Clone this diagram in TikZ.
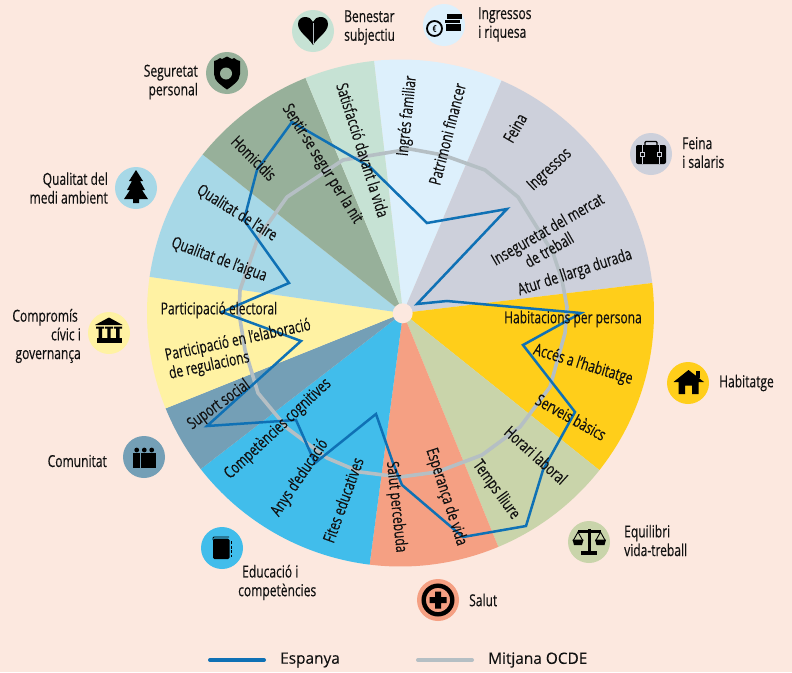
\documentclass[tikz,border=0pt]{standalone}
\usepackage{fontspec}
\setmainfont[FakeStretch=0.73,FakeBold=0.35]{Open Sans}
\newfontfamily\legendfont[FakeStretch=0.98,FakeBold=0.2]{Open Sans}
\usetikzlibrary{calc}
\definecolor{bgc}{HTML}{FCE8DF}
\definecolor{cIng}{HTML}{DDF0FC}
\definecolor{cFei}{HTML}{CDD0DB}
\definecolor{cHab}{HTML}{FFCE1A}
\definecolor{cEqu}{HTML}{C9D4AA}
\definecolor{cSal}{HTML}{F5A083}
\definecolor{cEdu}{HTML}{41BDEB}
\definecolor{cCom}{HTML}{749FB6}
\definecolor{cCiv}{HTML}{FFF2A3}
\definecolor{cQua}{HTML}{A7D8E7}
\definecolor{cSeg}{HTML}{97B09A}
\definecolor{cBen}{HTML}{C6E2D4}
\definecolor{cBlue}{HTML}{0F71B5}
\definecolor{cGray}{HTML}{B5BFC4}
\definecolor{txt}{HTML}{111111}
\tikzset{
  lab/.style={font=\fontsize{16.5}{18.7}\selectfont,inner sep=0pt,text=txt},
  outl/.style={lab,align=left,anchor=west},
  outr/.style={lab,align=right,anchor=east},
  iconbg/.style={circle,minimum size=42pt,inner sep=0pt},
  ink/.style={fill=black,draw=none},
}
\newcommand{\sector}[3]{\fill[#1] (403,313) -- ([shift={(400.5,313)}]#2:253.5) arc[start angle=#2,end angle=#3,radius=253.5] -- cycle;}
\begin{document}
\begin{tikzpicture}[x=1pt,y=-1pt]
\useasboundingbox (0,0) rectangle (792,672);
\fill[bgc] (0,0) rectangle (792,672);
% wedges
\sector{cIng}{-96}{-66.5}
\sector{cFei}{-66.5}{-6.8}
\sector{cHab}{-6.8}{38.3}
\sector{cEqu}{38.3}{67.3}
\sector{cSal}{67.3}{97}
\sector{cEdu}{97}{142}
\sector{cCom}{142}{157.9}
\sector{cCiv}{157.9}{188.2}
\sector{cQua}{188.2}{218.7}
\sector{cSeg}{218.7}{248}
\sector{cBen}{248}{264}
\node[circle,fill=bgc,minimum size=20pt,inner sep=0pt] (hub) at (402.7,313.3) {};
% polygons
\draw[cGray,line width=3.6pt,line join=round] (410,149)--(443,155)--(485,170)--(518,197)--(553,253)--(562,280)--(567,307)--(565,333)--(550,387)--(520,427)--(482,455)--(437,472)--(400,477)--(360,472)--(327,458)--(287,428)--(258,393)--(245,350)--(239,313)--(240,290)--(258,238)--(287,197)--(343,160)--cycle;
\draw[cBlue,line width=2.5pt,line join=miter] (292,122)--(370,167)--(427,223)--(507,209)--(417,304)--(447,301)--(581,313)--(523,345)--(575,412)--(543,470)--(526,526)--(463,537)--(402,485)--(393,463)--(376,414)--(315,463)--(296,420)--(207,426)--(301,341)--(222,312)--(289,283)--(244,220)--(257,170)--cycle;
% wedge labels
\node[lab,rotate=84] (t1) at (407.5,116) {Ingrés familiar};
\node[lab,rotate=75.5] (t2) at (447,134) {Patrimoni financer};
\node[lab,rotate=60] (t3) at (515,128) {Feina};
\node[lab,rotate=43] (t4) at (550,170) {Ingressos};
\node[lab,rotate=30,align=center] (t5) at (552,237) {Inseguretat del mercat\\de treball\hspace*{18pt}};
\node[lab,rotate=18] (t6) at (575,273) {Atur de llarga durada};
\node[lab] (t7) at (573,319) {Habitacions per persona};
\node[lab,rotate=-17] (t8) at (583,365) {Accés a l’habitatge};
\node[lab,rotate=-29] (t9) at (571,417) {Serveis bàsics};
\node[lab,rotate=-42] (t10) at (536,455) {Horari laboral};
\node[lab,rotate=-54] (t11) at (496,490) {Temps lliure};
\node[lab,rotate=-72] (t12) at (446,497) {Esperança de vida};
\node[lab,rotate=-84] (t13) at (396,507) {Salut percebuda};
\node[lab,rotate=70] (t14) at (343,500) {Fites educatives};
\node[lab,rotate=56] (t15) at (300,478) {Anys d’educació};
\node[lab,rotate=43] (t16) at (278,429) {Competències cognitives};
\node[lab,rotate=36] (t17) at (219,405) {Suport social};
\node[lab,rotate=12,align=left] (t18) at (240,350) {Participació en l’elaboració\\de regulacions};
\node[lab] (t19) at (219,310) {Participació electoral};
\node[lab,rotate=-20] (t20) at (219,260) {Qualitat de l’aigua};
\node[lab,rotate=-32] (t21) at (237,213) {Qualitat de l’aire};
\node[lab,rotate=-45] (t22) at (254,158) {Homicidis};
\node[lab,rotate=-58] (t23) at (322,164) {Sentir-se segur per la nit};
\node[lab,rotate=-72.4] (t24) at (363,150) {Satisfacció davant la vida};
% icon backgrounds
\node[iconbg,fill=cBen] (iBen) at (313,31) {};
\node[iconbg,fill=cIng] (iIng) at (444,25) {};
\node[iconbg,fill=cFei] (iFei) at (651,154) {};
\node[iconbg,fill=cHab] (iHab) at (688,383) {};
\node[iconbg,fill=cEqu] (iEqu) at (589,542) {};
\node[iconbg,fill=cSal] (iSal) at (438,600) {};
\node[iconbg,fill=cEdu] (iEdu) at (222,548) {};
\node[iconbg,fill=cCom] (iCom) at (144,457) {};
\node[iconbg,fill=cCiv] (iCiv) at (109,333) {};
\node[iconbg,fill=cQua] (iQua) at (136,188) {};
\node[iconbg,fill=cSeg] (iSeg) at (227,73) {};
% heart
\begin{scope}[shift={(iBen)}]
\fill[ink] (0,14) .. controls (-5,6) and (-15,1) .. (-15,-7) .. controls (-15,-12) and (-11,-14) .. (-8,-14) .. controls (-4,-14) and (-1,-12) .. (0,-9) .. controls (1,-12) and (4,-14) .. (8,-14) .. controls (11,-14) and (15,-12) .. (15,-7) .. controls (15,1) and (5,6) .. (0,14) -- cycle;
\draw[cGray,line width=.5pt] (0,-8) -- (0,13);
\end{scope}
% shield
\begin{scope}[shift={(iSeg)}]
\fill[ink] (-10,-13) -- (-7,-15) -- (-5,-14) -- (0,-16.5) -- (5,-14) -- (7,-15) -- (10,-13) -- (13,-12) -- (13,1) .. controls (13,8) and (5,13) .. (0,16.5) .. controls (-5,13) and (-13,8) .. (-13,1) -- (-13,-12) -- cycle;
\fill[cSeg] (-1,0.5) circle[radius=6];
\end{scope}
% tree
\begin{scope}[shift={(iQua)}]
\fill[ink] (0,-18) -- (7,-7) -- (4,-7) -- (9,2) -- (6,2) -- (12,11) -- (3,11) -- (3,15) -- (-3,15) -- (-3,11) -- (-12,11) -- (-6,2) -- (-9,2) -- (-4,-7) -- (-7,-7) -- cycle;
\end{scope}
% coin and bars
\begin{scope}[shift={(iIng)}]
\draw[black,line width=1.8pt] (-9.5,3.5) circle[radius=7.5];
\node[inner sep=0pt,font=\fontsize{9}{9}\selectfont] (euro) at (-9.5,3.5) {€};
\fill[ink] (3,-11) rectangle (18,-6.5);
\fill[ink] (0.5,-5.5) rectangle (15.5,-2);
\fill[ink] (2,-1) rectangle (17,6);
\end{scope}
% briefcase
\begin{scope}[shift={(iFei)}]
\draw[black,line width=1.3pt,rounded corners=1pt] (-6,-9) -- (-6,-12.5) -- (6,-12.5) -- (6,-9);
\fill[ink,rounded corners=2pt] (-15,-9) rectangle (15,10);
\draw[cFei,line width=.8pt] (-8.5,-9) -- (-8.5,10) (8.5,-9) -- (8.5,10);
\draw[cFei,fill=black,line width=.8pt] (-10.5,-2) rectangle (-6.5,2) (6.5,-2) rectangle (10.5,2);
\end{scope}
% house
\begin{scope}[shift={(iHab)}]
\fill[ink] (7.5,-12.5) rectangle (12,-5);
\fill[ink] (0.5,-13) -- (16,-1) -- (10.5,-1) -- (10.5,11) -- (4,11) -- (4,2.5) -- (-3,2.5) -- (-3,11) -- (-9.5,11) -- (-9.5,-1) -- (-14.5,-1) -- cycle;
\end{scope}
% scales
\begin{scope}[shift={(iEqu)}]
\fill[ink] (-8,9) rectangle (8,13);
\fill[ink] (-1.5,-13) rectangle (1.5,10);
\fill[ink] (-11,-12) rectangle (11.5,-9.5);
\draw[black,line width=.9pt] (-16,-1) -- (-11,-10) -- (-6,-1) (6.5,-1) -- (11.5,-10) -- (16.5,-1);
\fill[ink] (-16.5,-2.5) -- (-5.5,-2.5) -- (-7,3) -- (-15,3) -- cycle;
\fill[ink] (6,-2.5) -- (17,-2.5) -- (15.5,3) -- (7.5,3) -- cycle;
\end{scope}
% health
\begin{scope}[shift={(iSal)}]
\draw[black,line width=4.4pt] (0,0) circle[radius=14.3];
\fill[ink] (-3,-8.5) rectangle (3,8.5) (-8.5,-3) rectangle (8.5,3);
\end{scope}
% book
\begin{scope}[shift={(iEdu)}]
\fill[ink,rounded corners=1.5pt] (-9,-9.5) rectangle (7.5,11);
\draw[black,line width=.8pt,rounded corners=1pt] (-9,-8) -- (-9,-11) -- (7,-11);
\draw[black,line width=1pt,dash pattern=on 3pt off 1.6pt] (9.5,-7) -- (9.5,9);
\end{scope}
% people
\begin{scope}[shift={(iCom)}]
\fill[ink] (-7.3,-7) circle[radius=2.4] (0.3,-7) circle[radius=2.4] (7.7,-7) circle[radius=2.4];
\fill[ink] (-11.3,-4.3) rectangle (-4,10.7);
\fill[ink] (-3,-4.3) rectangle (11.7,10.7);
\end{scope}
% temple
\begin{scope}[shift={(iCiv)}]
\fill[ink] (0,-15.5) -- (13.7,-8) -- (-14,-8) -- cycle;
\fill[ink] (-13,-6.5) rectangle (-5,-4.5) (-4,-6.5) rectangle (4,-4.5) (5,-6.5) rectangle (13,-4.5);
\fill[ink] (-10.5,-5) rectangle (-7,6) (-1.7,-5) rectangle (1.7,6) (7,-5) rectangle (10.5,6);
\fill[ink] (-12.5,5) rectangle (12.5,9.7);
\end{scope}
% outside labels
\node[outl] (o1) at (344,27.5) {Benestar\\subjectiu};
\node[outl] (o2) at (478,24.5) {Ingressos\\i riquesa};
\node[outl] (o3) at (682,152.5) {Feina\\i salaris};
\node[outl] (o4) at (719,383) {Habitatge};
\node[outl] (o5) at (624,540.5) {Equilibri\\vida-treball};
\node[outl] (o6) at (469,600) {Salut};
\node[outl] (o7) at (238,582.5) {\hspace*{4pt}Educació i\\competències};
\node[outr] (o8) at (107,461) {Comunitat};
\node[outr] (o9) at (81,336) {Compromís\hspace*{3pt}\\cívic i\hspace*{7pt}\\governança};
\node[outr] (o10) at (108,188) {Qualitat del\\medi ambient};
\node[outr] (o11) at (198,82) {Seguretat\\personal};
% legend
\coordinate (lb1) at (210,660); \coordinate (lb2) at (264,660);
\coordinate (lg1) at (418,660); \coordinate (lg2) at (472,660);
\draw[cBlue,line width=4pt,line cap=round] (lb1) -- (lb2);
\draw[cGray,line width=4pt,line cap=round] (lg1) -- (lg2);
\node[outl,font=\legendfont\fontsize{15.7}{18}\selectfont] (l1) at (280,660) {Espanya};
\node[outl,font=\legendfont\fontsize{15.7}{18}\selectfont] (l2) at (488,660) {Mitjana OCDE};
\end{tikzpicture}
\end{document}
